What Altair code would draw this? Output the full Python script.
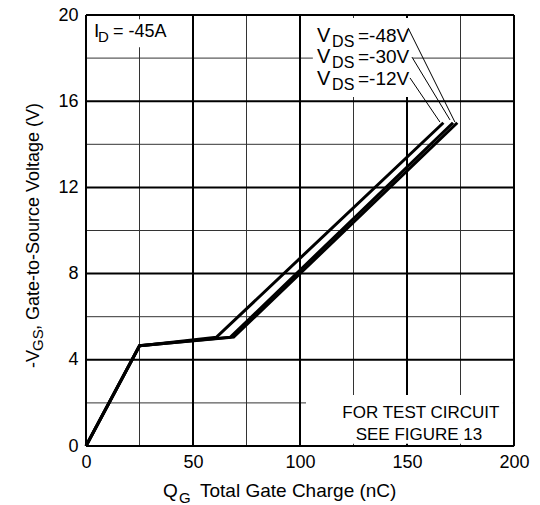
import altair as alt
import pandas as pd

# ---- data ----
series = ["VDS=-12V", "VDS=-30V", "VDS=-48V"]
q_12 = [0, 25, 61, 167]
q_30 = [0, 25, 67.5, 171.5]
q_48 = [0, 25, 69, 173.5]
vgs = [0, 4.65, 5.05, 15]

x_major = [0, 50, 100, 150, 200]
x_minor = [25, 75, 125, 175]
y_major = [0, 4, 8, 12, 16, 20]
y_minor = [2, 6, 10, 14, 18]

# leader lines (label end -> curve end)
lead_x = [150.5, 152.3, 151.4]
lead_y = [19.4, 18.05, 17.08]
lead_x2 = [172.4, 170.1, 165.4]
lead_y2 = [15.03, 15.13, 15.03]

# white label boxes
box_x = [0.5, 106, 102.8]
box_x2 = [44, 152.8, 199.5]
box_y = [18.5, 16.2, 0.1]
box_y2 = [19.8, 19.86, 2.37]

FONT = "Liberation Sans"

rows = []
for name, q in zip(series, [q_12, q_30, q_48]):
    for a, b in zip(q, vgs):
        rows.append({"s": name, "q": a, "v": b})
curves = pd.DataFrame(rows)

X = alt.Scale(domain=[0, 200], nice=False, zero=False)
Y = alt.Scale(domain=[0, 20], nice=False, zero=False)

AX = alt.Axis(values=x_major, grid=False, ticks=False, domain=False,
              labelFont=FONT, labelFontSize=18, labelColor="black",
              labelPadding=7, title=None, labelFlush=False)
AY = alt.Axis(values=y_major, grid=False, ticks=False, domain=False,
              labelFont=FONT, labelFontSize=18, labelColor="black",
              labelPadding=8, title=None, labelFlush=False)

def xs(f):
    return alt.X(f, type="quantitative", scale=X, axis=AX)

def ys(f):
    return alt.Y(f, type="quantitative", scale=Y, axis=AY)

minor_v = alt.Chart(pd.DataFrame({"q": x_minor})).mark_rule(color="#333", strokeWidth=1).encode(x=xs("q"))
major_v = alt.Chart(pd.DataFrame({"q": x_major})).mark_rule(color="black", strokeWidth=2).encode(x=xs("q"))
minor_h = alt.Chart(pd.DataFrame({"v": y_minor})).mark_rule(color="#333", strokeWidth=1).encode(y=ys("v"))
major_h = alt.Chart(pd.DataFrame({"v": y_major})).mark_rule(color="black", strokeWidth=2).encode(y=ys("v"))

boxes = alt.Chart(pd.DataFrame({"x": box_x, "x2": box_x2, "y": box_y, "y2": box_y2})).mark_rect(
    color="white").encode(x=xs("x"), x2="x2", y=ys("y"), y2="y2")

lines = alt.Chart(curves).mark_line(color="black", strokeWidth=3, strokeJoin="miter").encode(
    x=xs("q"), y=ys("v"), detail="s:N", order="q:Q")

leaders = alt.Chart(pd.DataFrame({"x": lead_x, "y": lead_y, "x2": lead_x2, "y2": lead_y2})).mark_rule(
    color="black", strokeWidth=1).encode(x=xs("x"), x2="x2", y=ys("y"), y2="y2")

# in-plot annotation text pieces (data coordinates)
ann_text = ["I", "D", "= -45A",
            "V", "DS", "=-48V",
            "V", "DS", "=-30V",
            "V", "DS", "=-12V",
            "FOR TEST CIRCUIT", "SEE FIGURE 13"]
ann_x = [3.7, 5.6, 12.6,
         107.9, 115.0, 127.1,
         107.9, 115.0, 127.1,
         107.9, 115.0, 127.1,
         156.5, 155.6]
ann_y = [18.98, 18.75, 18.98,
         18.75, 18.52, 18.75,
         17.77, 17.54, 17.77,
         16.75, 16.52, 16.75,
         1.3, 0.28]
ann_size = [19, 15, 18,
            20, 16, 19,
            20, 16, 19,
            20, 16, 19,
            17, 17]
ann_align = ["left"] * 12 + ["center", "center"]
ann = pd.DataFrame({"t": ann_text, "x": ann_x, "y": ann_y, "s": ann_size, "a": ann_align})

ann_left = alt.Chart(ann[ann.a == "left"]).mark_text(font=FONT, align="left", baseline="alphabetic", color="black").encode(
    x=xs("x"), y=ys("y"), text="t:N", size=alt.Size("s:Q", scale=None, legend=None))
ann_center = alt.Chart(ann[ann.a == "center"]).mark_text(font=FONT, align="center", baseline="alphabetic", color="black").encode(
    x=xs("x"), y=ys("y"), text="t:N", size=alt.Size("s:Q", scale=None, legend=None))

# axis titles (pixel positions relative to plot area), with subscripts
xt_text = ["Q", "G", "Total Gate Charge (nC)"]
xt_px = [77, 93, 114]
xt_py = [482, 488, 482]
xt_size = [19, 15, 19]

yt_text = ["-V", "GS", ", Gate-to-Source Voltage (V)"]
yt_px = [-47, -43, -47]
yt_py = [353, 336, 315]
yt_size = [18, 15, 18]

title_layers = []
for t, px, py, s in zip(xt_text, xt_px, xt_py, xt_size):
    title_layers.append(
        alt.Chart(pd.DataFrame({"t": [t]})).mark_text(
            font=FONT, fontSize=s, align="left", baseline="alphabetic", color="black"
        ).encode(x=alt.value(px), y=alt.value(py), text="t:N")
    )
for t, px, py, s in zip(yt_text, yt_px, yt_py, yt_size):
    title_layers.append(
        alt.Chart(pd.DataFrame({"t": [t]})).mark_text(
            font=FONT, fontSize=s, align="left", baseline="alphabetic", color="black", angle=270
        ).encode(x=alt.value(px), y=alt.value(py), text="t:N")
    )

chart = alt.layer(
    minor_v, minor_h, major_v, major_h, boxes, lines, leaders, ann_left, ann_center, *title_layers
).properties(
    width=428, height=431,
    autosize=alt.AutoSizeParams(type="none"),
    padding={"left": 86, "top": 15, "right": 26, "bottom": 59},
).configure_view(stroke="black", strokeWidth=3).configure(background="white")

chart.save("out.html", embed_options={"renderer": "svg", "actions": False})
